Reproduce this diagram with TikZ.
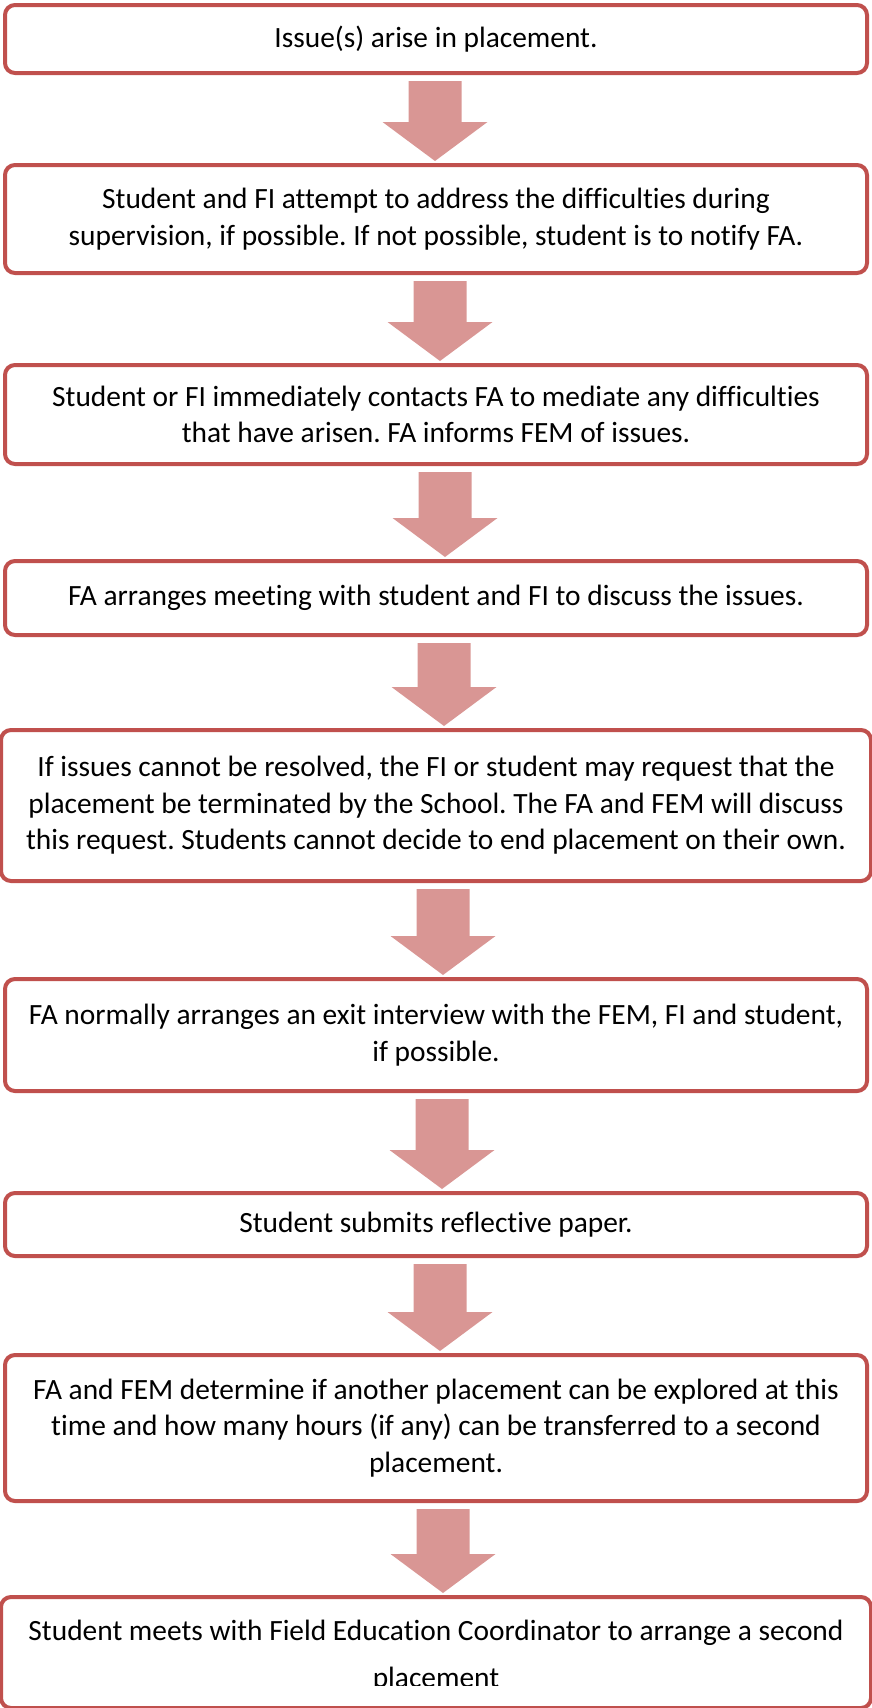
\documentclass[tikz,border=0pt]{standalone}
\usepackage{fontspec}
\setmainfont{Carlito}[Ligatures=NoCommon]
\frenchspacing
\usetikzlibrary{calc}
\definecolor{boxred}{HTML}{C0504D}
\definecolor{arrowpink}{HTML}{D99694}
\tikzset{
  stepbox/.style={draw=boxred, line width=4pt, rounded corners=10pt, fill=white,
    minimum width=862pt, inner sep=0pt, outer sep=0pt, align=center,
    font=\fontsize{29.4}{36.5}\selectfont},
  steptext/.style={inner sep=0pt, anchor=base, font=\fontsize{29.4}{36.5}\selectfont},
  arrowfill/.style={fill=arrowpink}
}
% block arrow: from box, to box, x shift of the arrow
\newcommand{\flowarrow}[3]{%
  \fill[arrowfill] ($(#1.south)+(#3-26.5,8)$) -- ($(#1.south)+(#3+26.5,8)$)
    -- ($(#2.north)+(#3+26.5,-43)$) -- ($(#2.north)+(#3+52.5,-43)$)
    -- ($(#2.north)+(#3,-4)$)
    -- ($(#2.north)+(#3-52.5,-43)$) -- ($(#2.north)+(#3-26.5,-43)$) -- cycle;}
\begin{document}
\begin{tikzpicture}[x=1pt,y=-1pt]
\useasboundingbox (0,0) rectangle (871,1708);

\node[stepbox, minimum height=68pt] (issue) at (436,39) {Issue(s) arise in placement.};
\node[stepbox, minimum height=108pt] (attempt) at (436,219) {Student and FI attempt to address the difficulties during\\supervision, if possible. If not possible, student is to notify FA.};
\node[stepbox, minimum height=99pt] (contact) at (436,414.5) {Student or FI immediately contacts FA to mediate any difficulties\\that have arisen. FA informs FEM of issues.};
\node[stepbox, minimum height=74pt] (meeting) at (436,598) {FA arranges meeting with student and FI to discuss the issues.};
\node[stepbox, minimum height=151pt, minimum width=870pt] (terminate) at (436,805.5) {If issues cannot be resolved, the FI or student may request that the\\placement be terminated by the School. The FA and FEM will discuss\\this request. Students cannot decide to end placement on their own.};
\node[stepbox, minimum height=112pt] (exit) at (436,1035) {FA normally arranges an exit interview with the FEM, FI and student,\\if possible.};
\node[stepbox, minimum height=63pt] (paper) at (436,1224.5) {Student submits reflective paper.};
\node[stepbox, minimum height=146pt] (explore) at (436,1428) {FA and FEM determine if another placement can be explored at this\\time and how many hours (if any) can be transferred to a second\\placement.};
\node[stepbox, minimum height=111pt, minimum width=870pt] (second) at (436,1652.5) {};
\begin{scope}
\clip (0,1590) rectangle (871,1685);
\node[steptext] (secondline) at (436,1640) {Student meets with Field Education Coordinator to arrange a second};
\node[steptext] (secondrest) at (436,1687) {placement};
\end{scope}

\flowarrow{issue}{attempt}{-1}
\flowarrow{attempt}{contact}{4}
\flowarrow{contact}{meeting}{9}
\flowarrow{meeting}{terminate}{8}
\flowarrow{terminate}{exit}{7}
\flowarrow{exit}{paper}{6}
\flowarrow{paper}{explore}{4}
\flowarrow{explore}{second}{7}

\end{tikzpicture}
\end{document}
